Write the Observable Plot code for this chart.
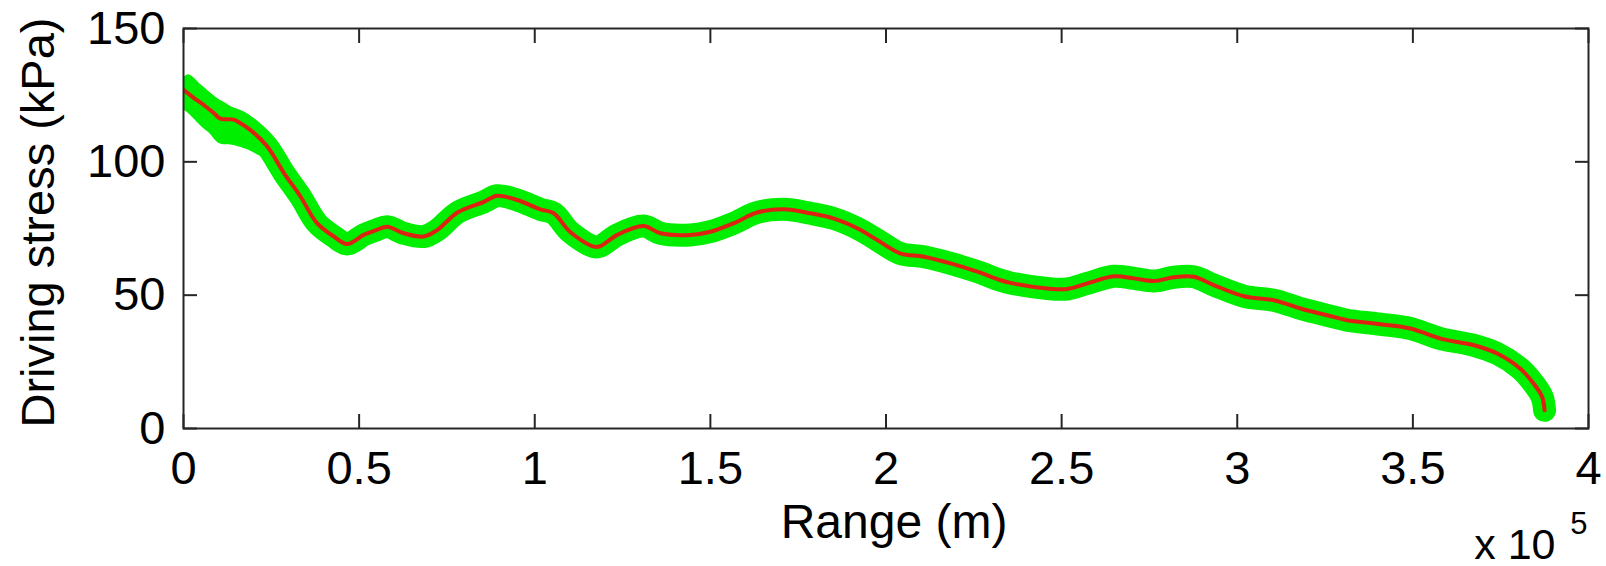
<!DOCTYPE html>
<html>
<head>
<meta charset="utf-8">
<script src="https://cdn.jsdelivr.net/npm/d3@7"></script>
<script src="https://cdn.jsdelivr.net/npm/@observablehq/plot@0.6"></script>
<style>
  html, body { margin: 0; padding: 0; background: #fff; }
  #chart svg { display: block; }
</style>
</head>
<body>
<div id="chart"></div>
<script>
// Along-flow driving stress profile (median) with the ensemble spread drawn as a green band.
const rangeM = [
  0, 2900, 5700, 8600, 10500, 14300, 16200, 19000, 23800, 28600,
  33300, 38000, 42800, 46600, 51300, 55000, 58000, 62700, 68400, 72200,
  78000, 85500, 89300, 95000, 101600, 105400, 110000, 116800, 118700, 123500,
  131000, 135800, 144300, 150000, 156700, 163300, 170900, 178500, 185000, 191800,
  197500, 204000, 210800, 218400, 226000, 232600, 235400, 245900, 251600, 257300,
  264900, 270600, 276300, 281900, 287600, 293300, 301900, 310400, 318000, 321800,
  329400, 331300, 340800, 349300, 357900, 367400, 374000, 380600, 384400, 386800,
  387500
];
const stressKPa = [
  127, 124, 121.4, 118.3, 116.2, 115.8, 114.5, 112, 105.8, 95.8,
  87, 77, 72, 69.2, 72.6, 74.5, 75.7, 73.2, 72, 74.4,
  81, 85, 87.3, 85.7, 82.2, 80.7, 73.8, 68.2, 68.4, 72.6,
  75.9, 73.2, 72.6, 73.8, 77, 81, 82.2, 80.7, 78.8, 75.1,
  70.7, 65.7, 64.4, 61.9, 58.8, 55.6, 54.6, 52.5, 52.3, 54.4,
  57.1, 56.3, 55.3, 56.7, 56.9, 53.8, 49.6, 48.1, 45, 43.7,
  41.2, 40.6, 39.1, 37.5, 33.7, 31.2, 28.1, 22.4, 16.8, 11.8,
  6.8
];

// Wider spread of the ensemble near the divide
const envRangeM = [0, 1500, 5300, 7200, 10000, 12000, 13900, 18600, 22000, 24300];
const envLowKPa = [119.5, 118, 113, 111, 107, 106.4, 106.2, 104.3, 102, 101];
const envHighKPa = [131.5, 132.7, 128.5, 126.4, 123.5, 122, 120.5, 117.7, 112.5, 109];

const xTicks = [0, 50000, 100000, 150000, 200000, 250000, 300000, 350000, 400000];
const yTicks = [0, 50, 100, 150];
const xLabel = "Range (m)";
const yLabel = "Driving stress (kPa)";
const xExponentBase = "x 10";
const xExponentPower = "5";

const GREEN = "#00ee00";
const RED = "#dc2312";
const INK = "#262626";
const FONT = "'Liberation Sans', Arial, Helvetica, sans-serif";

const profile = rangeM.map((r, i) => ({range: r, stress: stressKPa[i]}));
const envelope = envRangeM.map((r, i) => ({range: r, lo: envLowKPa[i], hi: envHighKPa[i]}));

const chart = Plot.plot({
  width: 1606,
  height: 566,
  marginLeft: 183,
  marginRight: 18,
  marginTop: 28,
  marginBottom: 138,
  style: {fontFamily: FONT, fontSize: "47px", color: "#000", background: "#fff", overflow: "visible"},
  x: {domain: [0, 400000]},
  y: {domain: [0, 150]},
  marks: [
    Plot.areaY(envelope, {x: "range", y1: "lo", y2: "hi", fill: GREEN, curve: "catmull-rom", clip: true}),
    Plot.line(profile, {x: "range", y: "stress", stroke: GREEN, strokeWidth: 23, strokeLinecap: "round", strokeLinejoin: "round", curve: "catmull-rom", clip: true}),
    Plot.line(profile, {x: "range", y: "stress", stroke: RED, strokeWidth: 4, strokeLinecap: "round", curve: "catmull-rom", clip: true}),
    Plot.frame({stroke: INK, strokeWidth: 2}),
    // inward ticks on all four sides
    Plot.axisX({ticks: xTicks, anchor: "bottom", tickSize: -14, text: null, stroke: INK, strokeWidth: 2, label: null}),
    Plot.axisX({ticks: xTicks, anchor: "top", tickSize: -14, text: null, stroke: INK, strokeWidth: 2, label: null}),
    Plot.axisY({ticks: yTicks, anchor: "left", tickSize: -14, text: null, stroke: INK, strokeWidth: 2, label: null}),
    Plot.axisY({ticks: yTicks, anchor: "right", tickSize: -14, text: null, stroke: INK, strokeWidth: 2, label: null}),
    // tick labels
    Plot.axisX({ticks: xTicks, anchor: "bottom", tickSize: 0, tickPadding: 22, tickFormat: d => String(d / 1e5), fill: "#000", fontSize: 47, label: null}),
    Plot.axisY({ticks: yTicks, anchor: "left", tickSize: 0, tickPadding: 18, fill: "#000", fontSize: 47, label: null}),
    // axis titles
    Plot.text([xLabel], {frameAnchor: "bottom", dx: 8, dy: 75, lineAnchor: "top", textAnchor: "middle", fontSize: 48, fill: "#000"}),
    Plot.text([yLabel], {frameAnchor: "left", rotate: -90, dx: -130, dy: -6, lineAnchor: "bottom", textAnchor: "middle", fontSize: 47, fill: "#000"}),
    // scale exponent of the range axis
    Plot.text([xExponentBase], {frameAnchor: "bottom-right", dx: -33, dy: 100, lineAnchor: "top", textAnchor: "end", fontSize: 43, fill: "#000"}),
    Plot.text([xExponentPower], {frameAnchor: "bottom-right", dx: -1, dy: 83, lineAnchor: "top", textAnchor: "end", fontSize: 31, fill: "#000"})
  ]
});

document.getElementById("chart").appendChild(chart);
</script>
</body>
</html>
